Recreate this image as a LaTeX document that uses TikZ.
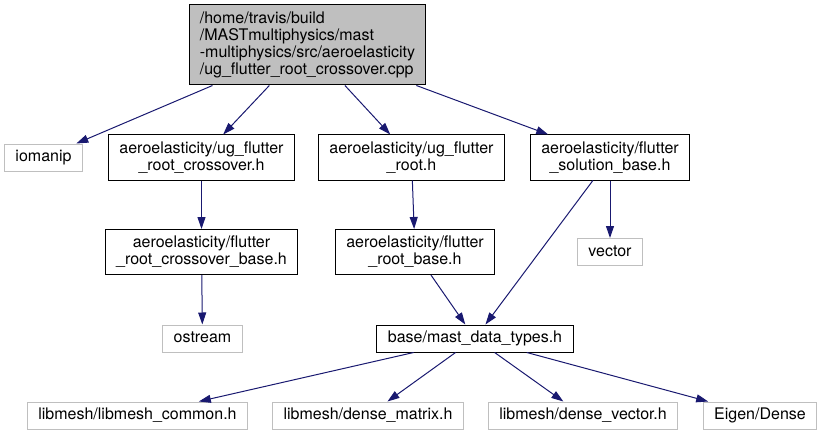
\documentclass[tikz,border=0pt]{standalone}
\usepackage{fontspec}
\setmainfont{TeX Gyre Heros}
\usetikzlibrary{arrows.meta}
\definecolor{EdgeBlue}{RGB}{25,25,112}
\definecolor{NodeGray}{RGB}{191,191,191}

\begin{document}
\begin{tikzpicture}[x=1pt, y=-1pt,
	every node/.style={font=\fontsize{16}{17}\selectfont, inner sep=0pt, line width=1pt},
	inc/.style={draw=black, fill=white, inner xsep=11pt, minimum height=27pt, text height=11.5pt, text depth=3.5pt},
	inctwo/.style={draw=black, fill=white, inner xsep=11pt, minimum height=45pt, align=center},
	sys/.style={draw=NodeGray, fill=white, inner xsep=11pt, minimum height=27pt, text height=11.5pt, text depth=3.5pt},
	srcfile/.style={draw=black, fill=NodeGray, inner xsep=10pt, minimum height=80pt, align=left},
	dep/.style={EdgeBlue, line width=1pt, -{Triangle[length=12pt,width=8pt]}}
]
	\useasboundingbox (0,0) rectangle (823,436);
	% included files, one rank per row
	\node[srcfile] (cpp) at (307.5,45) {/home/travis/build\\/MASTmultiphysics/mast\\-multiphysics/src/aeroelasticity\\/ug\_flutter\_root\_crossover.cpp};
	\node[sys] (iomanip) at (43.5,157.5) {iomanip};
	\node[inctwo] (crossh) at (201.5,157.5) {aeroelasticity/ug\_flutter\\\_root\_crossover.h};
	\node[inctwo] (rooth) at (411.5,157.5) {aeroelasticity/ug\_flutter\\\_root.h};
	\node[inctwo] (solbase) at (610,157.5) {aeroelasticity/flutter\\\_solution\_base.h};
	\node[inctwo] (crossbase) at (201.5,252) {aeroelasticity/flutter\\\_root\_crossover\_base.h};
	\node[inctwo] (rootbase) at (415,252) {aeroelasticity/flutter\\\_root\_base.h};
	\node[sys] (vector) at (610,252) {vector};
	\node[sys] (ostream) at (202.5,338.5) {ostream};
	\node[inc] (mdt) at (475,338.5) {base/mast\_data\_types.h};
	\node[sys] (lmcommon) at (137.5,415.5) {libmesh/libmesh\_common.h};
	\node[sys] (dmatrix) at (368,415.5) {libmesh/dense\_matrix.h};
	\node[sys] (dvector) at (583,415.5) {libmesh/dense\_vector.h};
	\node[sys] (eigen) at (760,415.5) {Eigen/Dense};
	% include edges
	\draw[dep] (cpp) -- (iomanip);
	\draw[dep] (cpp) -- (crossh);
	\draw[dep] (cpp) -- (rooth);
	\draw[dep] (cpp) -- (solbase);
	\draw[dep] (crossh) -- (crossbase);
	\draw[dep] (crossbase) -- (ostream);
	\draw[dep] (rooth) -- (rootbase);
	\draw[dep] (rootbase) -- (mdt);
	\draw[dep] (solbase) -- (mdt);
	\draw[dep] (solbase) -- (vector);
	\draw[dep] (mdt) -- (lmcommon);
	\draw[dep] (mdt) -- (dmatrix);
	\draw[dep] (mdt) -- (dvector);
	\draw[dep] (mdt) -- (eigen);
\end{tikzpicture}
\end{document}
